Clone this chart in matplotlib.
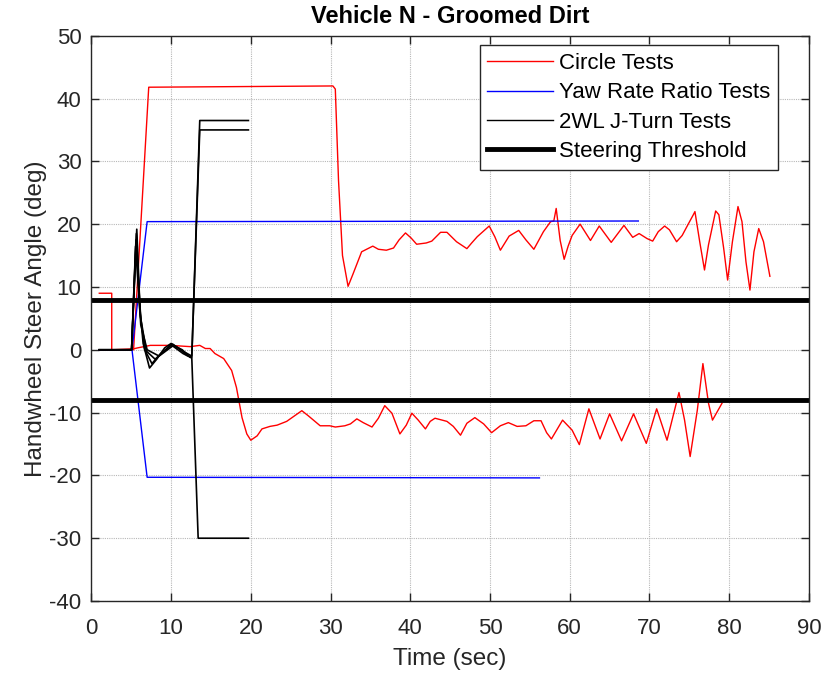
import numpy as np
import matplotlib
matplotlib.use("Agg")
import matplotlib.pyplot as plt
from matplotlib.lines import Line2D

plt.rcParams['font.family'] = ['Liberation Sans', 'DejaVu Sans']
plt.rcParams['axes.unicode_minus'] = False

# circle tests (two runs)
circle_a_t = [1.0, 5.3, 7.2, 30.3, 30.6, 31.0, 31.5, 32.2, 32.8, 33.9, 35.3, 36.0, 37.0, 37.9, 38.6,
              39.4, 40.1, 40.8, 42.0, 42.7, 43.8, 44.6, 45.8, 47.1, 47.7, 48.4, 49.9, 50.6, 51.3,
              52.4, 53.6, 54.5, 55.5, 56.7, 57.6, 58.0, 58.3, 58.8, 59.3, 59.8, 60.3, 61.3, 62.6,
              63.7, 65.2, 66.8, 67.9, 68.7, 69.7, 70.4, 71.1, 71.9, 72.5, 73.4, 74.1, 74.9, 75.5,
              75.7, 76.3, 76.9, 77.4, 78.3, 78.7, 79.3, 79.8, 80.4, 81.1, 81.6, 82.1, 82.6, 83.1,
              83.7, 84.3, 85.1]
circle_a_y = [0, 0, 41.8, 42.0, 41.5, 27.0, 15.0, 10.1, 12.0, 15.6, 16.5, 16.0, 15.85, 16.2, 17.5,
              18.6, 17.8, 16.8, 17.0, 17.3, 18.7, 18.7, 17.2, 16.1, 17.0, 18.0, 19.7, 18.0, 15.85,
              18.1, 19.0, 17.5, 16.0, 18.8, 20.4, 20.5, 22.5, 17.4, 14.4, 16.5, 18.2, 20.0, 17.4,
              19.7, 17.1, 19.8, 17.9, 18.5, 17.7, 17.3, 18.8, 19.7, 19.1, 17.2, 18.2, 20.1, 21.5,
              22.0, 17.2, 12.7, 16.7, 22.1, 21.5, 16.2, 11.1, 17.2, 22.8, 20.4, 14.0, 9.5, 15.6,
              19.3, 17.2, 11.7]

circle_b_t = [1.0, 2.56, 2.56, 5.3, 5.8, 7.4, 9.9, 12.4, 13.6, 14.3, 14.9, 15.5, 16.6, 17.6, 18.2,
              18.9, 19.5, 20.0, 20.8, 21.4, 22.4, 23.3, 24.5, 26.4, 27.2, 28.7, 29.9, 30.6, 31.8,
              32.5, 33.3, 34.1, 35.2, 36.0, 36.8, 37.7, 38.7, 39.5, 40.2, 41.0, 41.9, 42.5, 43.1,
              44.6, 45.4, 46.3, 47.1, 48.1, 49.2, 50.2, 51.3, 52.3, 53.4, 54.5, 55.5, 56.4, 57.1,
              57.7, 59.1, 60.3, 61.2, 62.4, 63.8, 65.0, 66.5, 68.0, 69.6, 70.9, 72.2, 73.7, 74.4,
              75.1, 76.0, 76.7, 77.4, 77.9, 79.1]
circle_b_y = [9.0, 9.0, 0, 0.15, 0.3, 0.7, 0.7, 0.5, 0.7, 0.2, 0.2, -0.6, -1.4, -3.3, -6.0,
              -10.8, -13.4, -14.4, -13.7, -12.6, -12.2, -12.0, -11.4, -9.7, -10.5, -12.1, -12.1, -12.3, -12.1,
              -11.8, -11.0, -11.6, -12.3, -10.9, -8.9, -10.1, -13.4, -12.0, -10.1, -11.2, -12.6, -11.4, -10.9,
              -11.4, -12.2, -13.6, -11.7, -10.8, -11.8, -13.2, -12.1, -11.6, -12.2, -12.1, -11.3, -11.3, -13.2,
              -14.2, -11.2, -12.8, -15.1, -9.4, -14.2, -10.2, -14.5, -10.2, -14.9, -9.4, -14.4, -6.8, -11.2,
              -17.0, -9.6, -2.2, -8.5, -11.2, -8.5]

# yaw rate ratio tests
yaw_a_t = [1.0, 5.1, 7.0, 68.6]
yaw_a_y = [0, 0, 20.4, 20.5]
yaw_b_t = [1.0, 5.1, 7.0, 56.2]
yaw_b_y = [0, 0, -20.3, -20.4]

# 2WL J-turn tests
j1_t = [1.0, 5.05, 5.7, 6.1, 6.5, 7.3, 8.2, 9.2, 10.0, 11.0, 12.0, 12.6, 13.6, 19.7]
j1_y = [0, 0, 19.2, 6.5, 1.0, -2.9, -1.5, 0.3, 1.0, 0.2, -0.9, -1.2, 36.5, 36.5]
j2_t = [1.0, 5.05, 5.65, 6.1, 6.7, 7.6, 8.7, 10.2, 11.3, 12.6, 13.6, 19.7]
j2_y = [0, 0, 18.5, 6.0, 0.0, -2.2, -0.6, 0.9, -0.1, -1.0, 35.0, 35.0]
j3_t = [1.0, 5.05, 5.6, 6.2, 6.9, 8.0, 9.0, 10.0, 11.5, 12.6, 13.4, 19.7]
j3_y = [0, 0, 17.5, 5.0, -0.2, -1.5, -0.4, 0.8, -0.6, -1.3, -30.0, -30.0]
j4_t = [1.0, 5.05, 5.55, 6.2, 7.0, 8.5, 10.3, 11.4, 12.4]
j4_y = [0, 0, 16.5, 4.0, 0.0, -1.0, 0.7, 0.0, -1.2]

threshold = 8

fig = plt.figure(figsize=(8.37, 6.75), dpi=100)
ax = fig.add_axes([0.1091, 0.1096, 0.8574, 0.8375])

ax.plot(circle_a_t, circle_a_y, color='red', lw=1.0)
ax.plot(circle_b_t, circle_b_y, color='red', lw=1.0)
ax.plot(yaw_a_t, yaw_a_y, color='blue', lw=1.0)
ax.plot(yaw_b_t, yaw_b_y, color='blue', lw=1.0)
for tt, yy in [(j1_t, j1_y), (j2_t, j2_y), (j3_t, j3_y), (j4_t, j4_y)]:
    ax.plot(tt, yy, color='black', lw=1.2)
ax.axhline(threshold, color='black', lw=3.5)
ax.axhline(-threshold, color='black', lw=3.5)

ax.set_xlim(0, 90)
ax.set_ylim(-40, 50)
ax.set_xticks(np.arange(0, 91, 10))
ax.set_yticks(np.arange(-40, 51, 10))
ax.grid(True, color='#b8b8b8', ls=(0, (1, 1)), lw=0.8)
ax.tick_params(direction='in', top=True, right=True, length=6, width=1.0,
               labelsize=16, colors='#262626')
ax.tick_params(axis='x', pad=12)
ax.tick_params(axis='y', pad=7)
for s in ax.spines.values():
    s.set_color('#262626')
    s.set_linewidth(1.0)

ax.set_title('Vehicle N - Groomed Dirt', fontsize=17, fontweight='bold', pad=9)
ax.set_xlabel('Time (sec)', fontsize=17.5, color='#262626', labelpad=7)
ax.set_ylabel('Handwheel Steer Angle (deg)', fontsize=17.5, color='#262626', labelpad=2)

handles = [Line2D([], [], color='red', lw=1.0),
           Line2D([], [], color='blue', lw=1.0),
           Line2D([], [], color='black', lw=1.0),
           Line2D([], [], color='black', lw=3.5)]
labels = ['Circle Tests', 'Yaw Rate Ratio Tests', '2WL J-Turn Tests', 'Steering Threshold']
leg = ax.legend(handles, labels, loc='upper right', bbox_to_anchor=(0.957, 0.983),
                fontsize=16, frameon=True, fancybox=False, edgecolor='#262626',
                framealpha=1.0, handlelength=2.95, handletextpad=0.28, labelspacing=0.37,
                borderpad=0.35, borderaxespad=0)
leg.get_frame().set_linewidth(1.0)

fig.savefig('out.png', dpi=100)
